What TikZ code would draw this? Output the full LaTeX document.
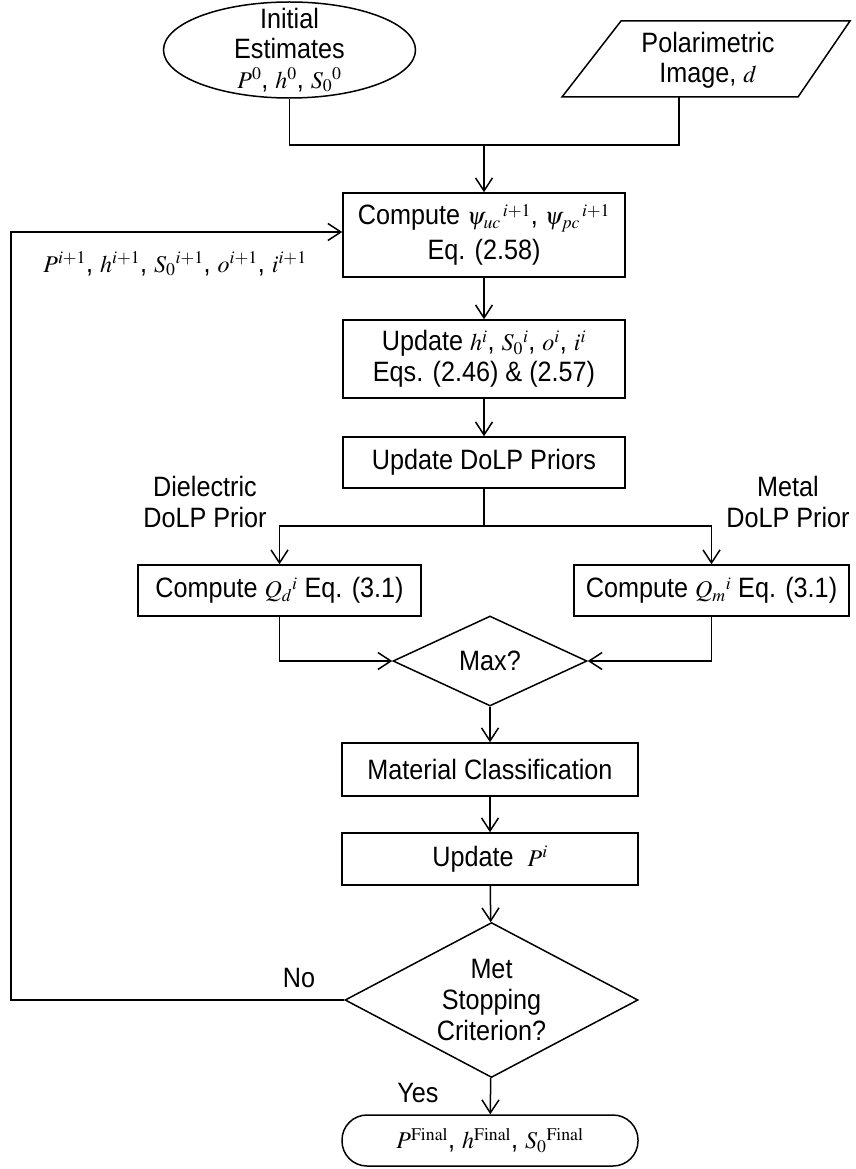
\documentclass[tikz,border=0pt]{standalone}
\usepackage{mathptmx}
\usepackage[no-math]{fontspec}
\setmainfont{Liberation Sans}[FakeStretch=0.9]
\usetikzlibrary{arrows.meta,shapes.geometric,calc}
\newcommand{\mth}[1]{{\fontsize{24}{32}\selectfont$#1$}}
\tikzset{
  base/.style={font=\fontsize{28}{32}\selectfont, align=center, inner sep=0pt},
  box/.style={base, draw, line width=1.5pt, rectangle},
  arr/.style={-{Straight Barb[length=13pt,width=17pt]}},
}
\begin{document}
\begin{tikzpicture}[x=1pt,y=-1pt, line width=1.5pt]
\useasboundingbox (0,0) rectangle (855,1169);
% top shapes
\node[draw, ellipse, minimum width=252pt, minimum height=96pt, inner sep=0pt] (init) at (289.5,50) {};
\node[base, font=\fontsize{28}{30}\selectfont] (inittxt) at (289.5,50) {Initial\\Estimates\\\mth{P^0}, \mth{h^0}, \mth{S_0{}^0}};
\coordinate (pTL) at (621,21);
\coordinate (pTR) at (850,21);
\coordinate (pBR) at (798,97);
\coordinate (pBL) at (562,97);
\draw (pTL) -- (pTR) -- (pBR) -- (pBL) -- cycle;
\node[base, font=\fontsize{28}{30}\selectfont] (polar) at (708,60) {Polarimetric\\Image, \mth{d}};
\coordinate (pbot) at (679,97);
\coordinate (j1) at (484,145);
% boxes
\node[box, minimum width=282pt, minimum height=84pt, font=\fontsize{28}{35}\selectfont] (comp) at (484,235) {Compute \mth{\psi_{uc}{}^{\,i+1}}, \mth{\psi_{pc}{}^{\,i+1}}\\Eq. (2.58)};
\node[box, minimum width=282pt, minimum height=78pt, font=\fontsize{28}{31}\selectfont] (upd) at (484,359) {Update \mth{h^i}, \mth{S_0{}^i}, \mth{o^i}, \mth{i^i}\\Eqs. (2.46) \& (2.57)};
\node[box, minimum width=282pt, minimum height=51pt] (dolp) at (484,462.5) {Update DoLP Priors};
\coordinate (j2) at (484,526);
\node[box, minimum width=283pt, minimum height=51pt] (qd) at (279.5,590.5) {Compute \mth{Q_d{}^i} Eq. (3.1)};
\node[box, minimum width=275pt, minimum height=51pt] (qm) at (711.5,590.5) {Compute \mth{Q_m{}^i} Eq. (3.1)};
\node[base, font=\fontsize{28}{31}\selectfont] (diel) at (205,501.5) {Dielectric\\DoLP Prior};
\node[base, font=\fontsize{28}{31}\selectfont] (metal) at (788,501.5) {Metal\\DoLP Prior};
\node[base, draw, diamond, minimum width=194pt, minimum height=90pt, line width=1.5pt] (max) at (490,661) {Max?};
\node[box, minimum width=296pt, minimum height=53pt] (mat) at (490,769.5) {Material Classification};
\node[box, minimum width=296pt, minimum height=52pt] (updp) at (490,859) {Update~~\mth{P^i}};
\node[base, draw, diamond, shape aspect=1.89, minimum width=293pt, minimum height=155pt, line width=1.5pt, font=\fontsize{28}{31}\selectfont] (stop) at (491.5,1000) {Met\\Stopping\\Criterion?};
\node[box, rounded corners=25pt, minimum width=296pt, minimum height=51pt] (fin) at (490,1140.5) {\mth{P^{\mathrm{Final}}}, \mth{h^{\mathrm{Final}}}, \mth{S_0{}^{\mathrm{Final}}}};
\coordinate (fb) at (11,232);
\node[base] (fbtxt) at (175,264) {\mth{P^{i+1}}, \mth{h^{i+1}}, \mth{S_0{}^{i+1}}, \mth{o^{i+1}}, \mth{i^{i+1}}};
\node[base] (no) at (299,978) {No};
\node[base] (yes) at (418,1093) {Yes};
% connectors
\draw (init.south) |- (j1) -| (pbot);
\draw[arr] (j1) -- (comp.north);
\draw[arr] (comp) -- (upd);
\draw[arr] (upd) -- (dolp);
\draw (dolp.south) -- (j2);
\draw[arr] (j2) -| (qd.north);
\draw[arr] (j2) -| (qm.north);
\draw[arr] (qd.south) |- (max.west);
\draw[arr] (qm.south) |- (max.east);
\draw[arr] (max) -- (mat);
\draw[arr] (mat) -- (updp);
\draw[arr] (updp) -- (stop);
\draw[arr] (stop) -- (fin);
\draw[arr] (stop.west) -| (fb) -- (fb -| comp.west);
\end{tikzpicture}
\end{document}
